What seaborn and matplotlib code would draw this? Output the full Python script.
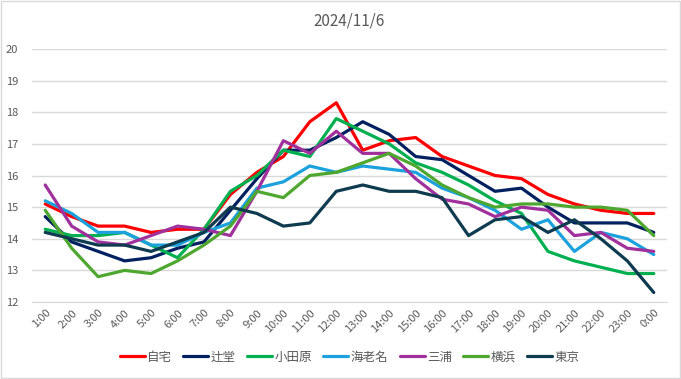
# 2024/11/6 hourly temperature lines, 7 locations
import pandas as pd
import matplotlib
matplotlib.use("Agg")
import matplotlib.pyplot as plt
import seaborn as sns

hours = [f"{h}:00" for h in range(1, 24)] + ["0:00"]

jitaku    = [15.1, 14.7, 14.4, 14.4, 14.2, 14.3, 14.3, 15.4, 16.1, 16.6, 17.7, 18.3,
             16.8, 17.1, 17.2, 16.6, 16.3, 16.0, 15.9, 15.4, 15.1, 14.9, 14.8, 14.8]
tsujido   = [14.7, 13.9, 13.6, 13.3, 13.4, 13.7, 13.9, 14.9, 15.9, 16.8, 16.8, 17.2,
             17.7, 17.3, 16.6, 16.5, 16.0, 15.5, 15.6, 15.0, 14.5, 14.5, 14.5, 14.2]
odawara   = [14.3, 14.1, 14.1, 14.2, 13.8, 13.4, 14.3, 15.5, 16.0, 16.8, 16.6, 17.8,
             17.4, 17.0, 16.4, 16.1, 15.7, 15.2, 14.8, 13.6, 13.3, 13.1, 12.9, 12.9]
ebina     = [15.2, 14.8, 14.2, 14.2, 13.8, 13.8, 14.2, 14.5, 15.6, 15.8, 16.3, 16.1,
             16.3, 16.2, 16.1, 15.6, 15.3, 14.9, 14.3, 14.6, 13.6, 14.2, 14.0, 13.5]
miura     = [15.7, 14.4, 13.9, 13.8, 14.1, 14.4, 14.3, 14.1, 15.5, 17.1, 16.7, 17.4,
             16.7, 16.7, 15.9, 15.25, 15.1, 14.7, 15.0, 14.9, 14.1, 14.2, 13.7, 13.6]
yokohama  = [14.9, 13.7, 12.8, 13.0, 12.9, 13.3, 13.8, 14.4, 15.5, 15.3, 16.0, 16.1,
             16.4, 16.7, 16.3, 15.7, 15.3, 15.0, 15.1, 15.1, 15.0, 15.0, 14.9, 14.1]
tokyo     = [14.2, 14.0, 13.8, 13.8, 13.6, 13.9, 14.2, 15.0, 14.8, 14.4, 14.5, 15.5,
             15.7, 15.5, 15.5, 15.3, 14.1, 14.6, 14.7, 14.2, 14.6, 14.0, 13.3, 12.3]

names = ["自宅", "辻堂", "小田原", "海老名", "三浦", "横浜", "東京"]
series = [jitaku, tsujido, odawara, ebina, miura, yokohama, tokyo]
colors = ["#FF0000", "#002060", "#00B050", "#1BA1DC", "#A0309C", "#4EA72E", "#0E3B4F"]

rows = []
for n, vals in zip(names, series):
    for h, v in zip(hours, vals):
        rows.append({"time": h, "temp": v, "place": n})
df = pd.DataFrame(rows)

sns.set_style("white")
plt.rcParams["font.family"] = ["Noto Sans CJK JP", "DejaVu Sans"]

fig = plt.figure(figsize=(6.81, 3.79), dpi=100)
ax = fig.add_axes([32/681, 1-302/379, 635/681, 253/379])

sns.lineplot(data=df, x="time", y="temp", hue="place", hue_order=names,
             palette=dict(zip(names, colors)), sort=False, linewidth=2.3, ax=ax)

ax.set_xlim(-0.5, 23.5)
ax.set_ylim(12, 20)
ax.set_yticks(range(12, 21))
ax.grid(axis="y", color="#D9D9D9", linewidth=1)
for s in ax.spines.values():
    s.set_visible(False)
ax.spines["bottom"].set_visible(True)
ax.spines["bottom"].set_color("#D9D9D9")
ax.set_xlabel("")
ax.set_ylabel("")
ax.tick_params(axis="both", length=0, labelsize=8, colors="#595959", pad=4)
plt.setp(ax.get_xticklabels(), rotation=45, ha="right", rotation_mode="anchor")
ax.tick_params(axis="y", pad=10)

ax.set_title("2024/11/6", fontsize=11, color="#595959", pad=17)

leg = ax.legend(loc="center", bbox_to_anchor=(0.5, -0.218), ncol=7, frameon=False,
                fontsize=9, handlelength=2.0, columnspacing=0.9, handletextpad=0.2)
for t in leg.get_texts():
    t.set_color("#595959")

fig.patches.append(plt.Rectangle((0.001, 0.002), 0.997, 0.995, transform=fig.transFigure,
                                 fill=False, edgecolor="#D9D9D9", linewidth=1))

fig.savefig("out.png", dpi=100)
